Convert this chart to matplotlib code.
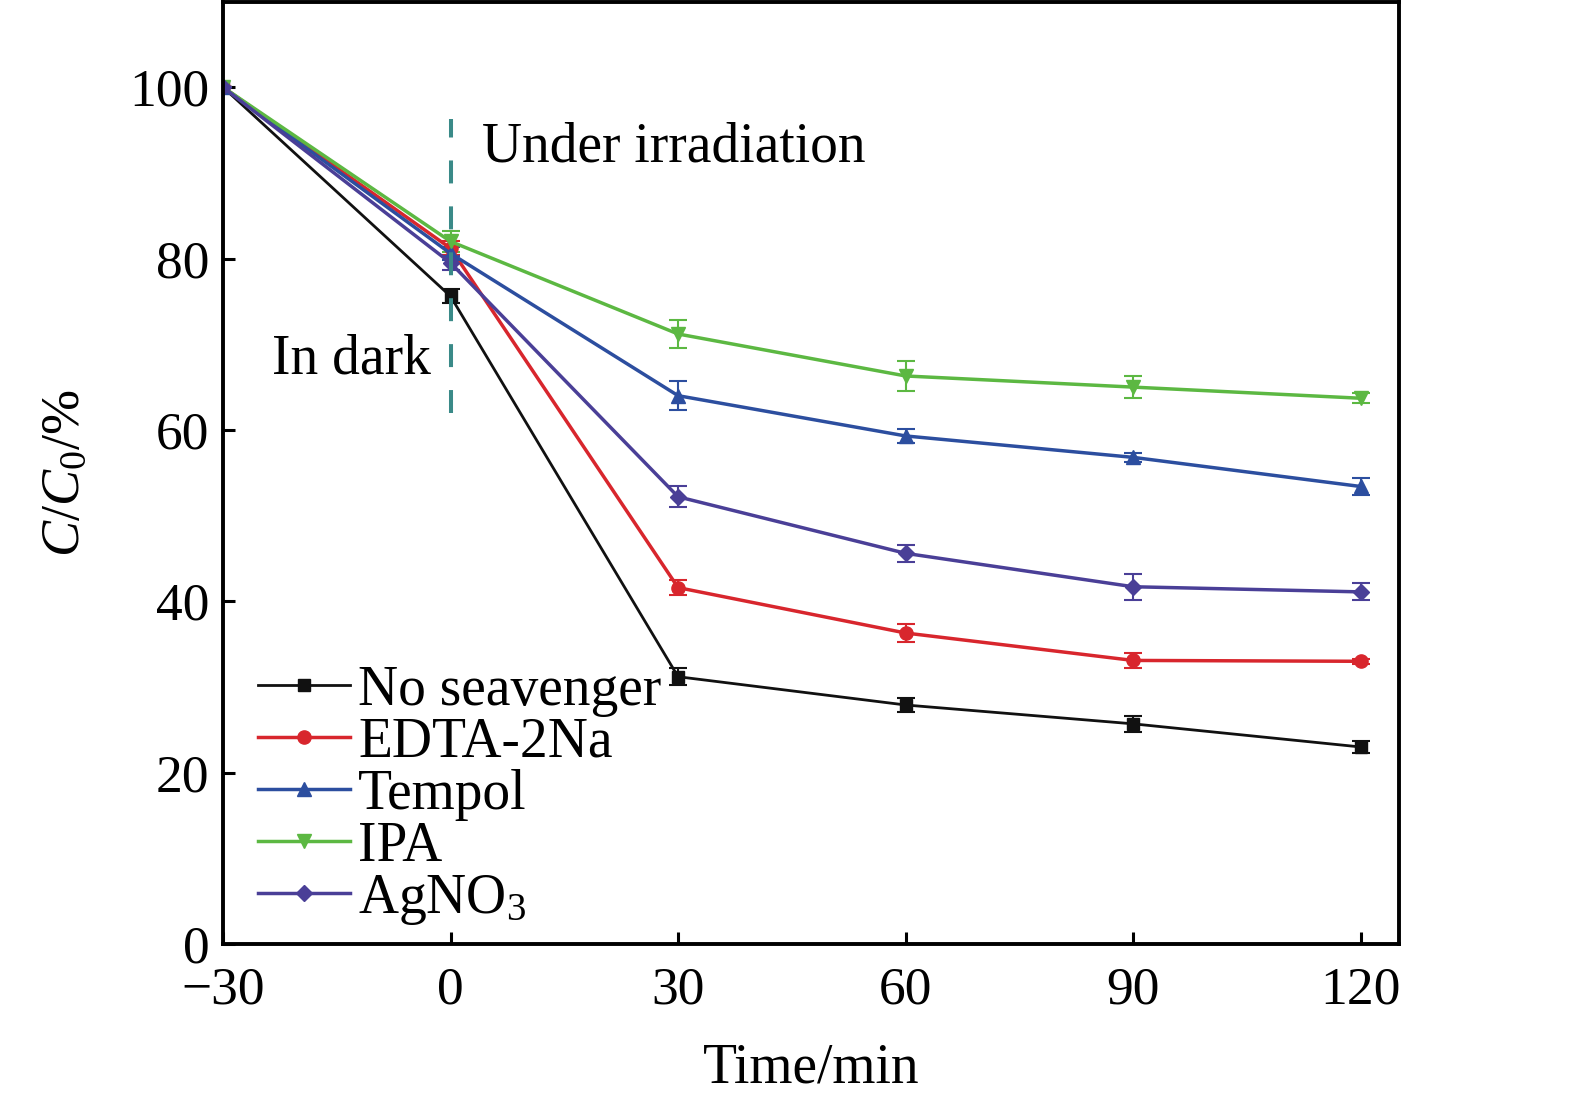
import numpy as np
import matplotlib
matplotlib.use("Agg")
import matplotlib.pyplot as plt

plt.rcParams['font.family'] = ['Liberation Serif', 'DejaVu Serif']
plt.rcParams['mathtext.fontset'] = 'custom'
plt.rcParams['mathtext.rm'] = 'Liberation Serif'
plt.rcParams['mathtext.it'] = 'Liberation Serif:italic'

time = [-30, 0, 30, 60, 90, 120]

labels = ['No seavenger', 'EDTA-2Na', 'Tempol', 'IPA', r'AgNO$_3$']
no_scav = [100, 75.6, 31.2, 27.9, 25.7, 23.0]
edta = [100, 81.2, 41.6, 36.3, 33.1, 33.0]
tempol = [100, 80.6, 64.0, 59.3, 56.8, 53.4]
ipa = [100, 82.0, 71.2, 66.3, 65.0, 63.7]
agno3 = [100, 79.5, 52.2, 45.6, 41.7, 41.1]

err_no = [0, 0.8, 1.0, 0.8, 0.9, 0.7]
err_edta = [0, 0.8, 0.9, 1.0, 0.9, 0.3]
err_tempol = [0, 0.8, 1.7, 0.8, 0.5, 1.0]
err_ipa = [0, 1.2, 1.6, 1.7, 1.3, 0.6]
err_agno3 = [0, 0.8, 1.2, 1.0, 1.5, 1.0]

series = [no_scav, edta, tempol, ipa, agno3]
errors = [err_no, err_edta, err_tempol, err_ipa, err_agno3]
colors = ['#111111', '#d8262d', '#2c4e9f', '#5cb842', '#4a3f97']
markers = ['s', 'o', '^', 'v', 'D']
msizes = [8.5, 9.5, 10, 10, 8.5]
lws = [2.0, 2.5, 2.5, 2.5, 2.5]

fig = plt.figure(figsize=(15.75, 10.99), dpi=100)
ax = fig.add_axes([0.1416, 0.141, 0.7464, 0.8576])

for y, e, c, m, ms, lw, lab in zip(series, errors, colors, markers, msizes, lws, labels):
    ax.errorbar(time, y, yerr=e, color=c, marker=m, markersize=ms, lw=lw,
                elinewidth=1.5, capsize=6.5, capthick=1.5, label=lab)

ax.plot([0, 0], [62.0, 96.3], color='#3a8a88', lw=2.9, linestyle=(0, (5.7, 5.7)), zorder=5)

ax.text(4.1, 91.3, 'Under irradiation', fontsize=40, va='baseline', ha='left')
ax.text(-2.6, 66.6, 'In dark', fontsize=40, va='baseline', ha='right')

ax.set_xlim(-30, 125)
ax.set_ylim(0, 110)
ax.set_xticks([-30, 0, 30, 60, 90, 120])
ax.set_yticks([0, 20, 40, 60, 80, 100])
ax.tick_params(direction='in', length=8.6, width=2.2, labelsize=38.5)
ax.tick_params(axis='x', pad=16)
ax.tick_params(axis='y', pad=10)
for s in ax.spines.values():
    s.set_linewidth(2.8)

ax.set_xlabel('Time/min', fontsize=40, labelpad=20)
ax.set_ylabel(r'$C$/$C_0$/%', fontsize=39, labelpad=28)

handles, labs = ax.get_legend_handles_labels()
handles = [h[0] for h in handles]
ax.legend(handles, labs, loc='lower left', bbox_to_anchor=(0.011, -0.005), frameon=False,
          fontsize=40, handlelength=1.65, handletextpad=0.15, labelspacing=0.0,
          borderaxespad=0.0)

fig.savefig('out.png', dpi=100)
